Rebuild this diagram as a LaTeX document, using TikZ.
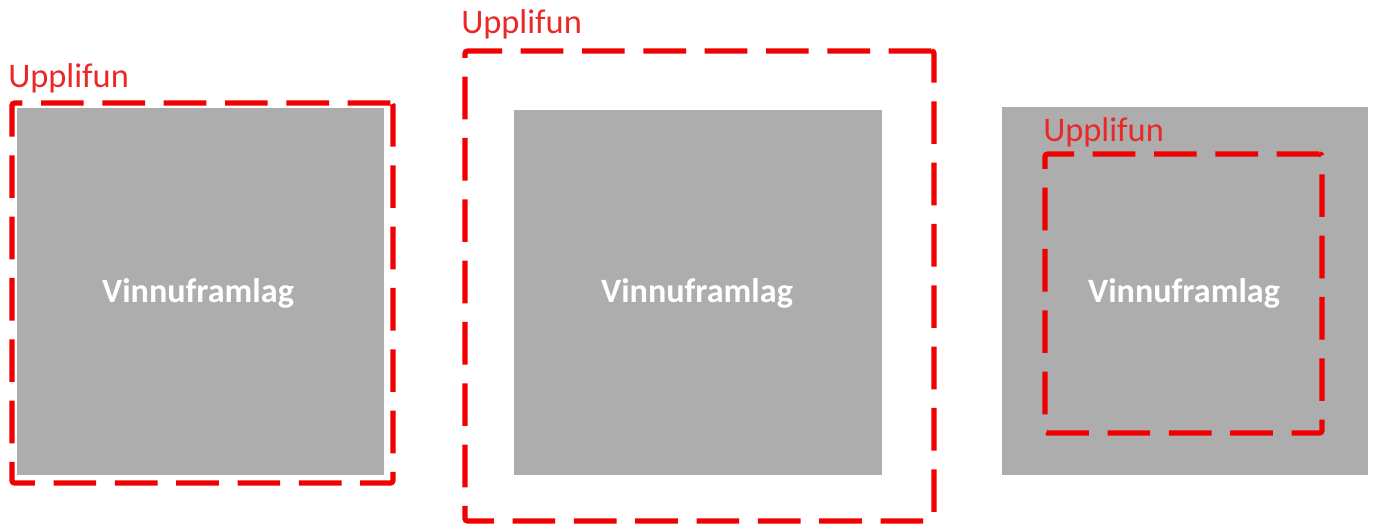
\documentclass[tikz,border=0pt]{standalone}
\usepackage{fontspec}
\setmainfont{Carlito}
\definecolor{boxgray}{RGB}{173,173,173}
\definecolor{dashred}{RGB}{240,0,0}
\definecolor{labelred}{RGB}{235,40,40}
\begin{document}
\begin{tikzpicture}[x=0.75pt,y=-0.75pt,
  graybox/.style={fill=boxgray,draw=none,inner sep=0pt},
  dashbox/.style={draw=dashred,line width=4pt,dash pattern=on 32pt off 14pt,
    rounded corners=2pt,inner sep=0pt},
  lbl/.style={anchor=base west,inner sep=0pt,text=labelred,
    font=\fontsize{25.8}{30}\selectfont},
  vtext/.style={anchor=base,inner sep=0pt,text=white,
    font=\fontsize{25.6}{30}\selectfont\bfseries}]
\useasboundingbox (0,0) rectangle (1374,526);
% left
\node[graybox,minimum width=367*0.75pt,minimum height=367*0.75pt] (g1) at (200.5,291.5) {};
\node[dashbox,minimum width=381*0.75pt,minimum height=380*0.75pt] (d1) at (202.5,293) {};
\node[lbl] (l1) at (8,87) {Upplifun};
\node[vtext] (t1) at (198,302) {Vinnuframlag};
% middle
\node[graybox,minimum width=368*0.75pt,minimum height=365*0.75pt] (g2) at (698,292.5) {};
\node[dashbox,minimum width=469*0.75pt,minimum height=470*0.75pt] (d2) at (699.5,286) {};
\node[lbl] (l2) at (461,33) {Upplifun};
\node[vtext] (t2) at (697,302) {Vinnuframlag};
% right
\node[graybox,minimum width=366*0.75pt,minimum height=368*0.75pt] (g3) at (1185,291) {};
\node[dashbox,minimum width=277*0.75pt,minimum height=279*0.75pt] (d3) at (1183.5,293.5) {};
\node[lbl] (l3) at (1043,141) {Upplifun};
\node[vtext] (t3) at (1184,302) {Vinnuframlag};
\end{tikzpicture}
\end{document}
